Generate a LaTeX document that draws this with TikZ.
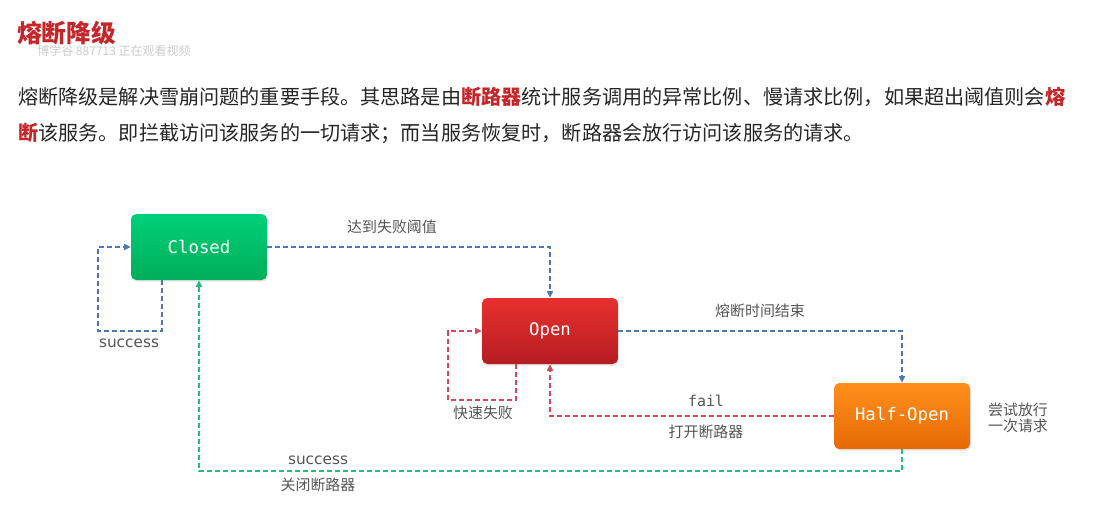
\documentclass[tikz,border=0pt]{standalone}
\usepackage{fontspec}
\setmainfont{Noto Sans CJK SC}
\newfontfamily\monof{DejaVu Sans Mono}
\newfontfamily\sansf{DejaVu Sans}
\usetikzlibrary{shadows,arrows.meta}
\definecolor{hred}{HTML}{C4262A}
\definecolor{bodytxt}{HTML}{262626}
\definecolor{lbl}{HTML}{555555}
\definecolor{lblue}{HTML}{4A78B5}
\definecolor{lred}{HTML}{D0485A}
\definecolor{lgreen}{HTML}{1DBF7E}
\definecolor{gtop}{HTML}{00D07A}
\definecolor{gbot}{HTML}{00AE58}
\definecolor{rtop}{HTML}{E8302E}
\definecolor{rbot}{HTML}{B51D22}
\definecolor{otop}{HTML}{FF8F1C}
\definecolor{obot}{HTML}{E66A05}
\tikzset{
  statebox/.style={rounded corners=4pt, minimum width=102pt, minimum height=49.5pt, inner sep=0pt,
    text=white, font=\monof\fontsize{13}{15}\selectfont,
    drop shadow={opacity=0.2, shadow xshift=0.8pt, shadow yshift=-1.2pt}},
  conn/.style={line width=1.1pt, dash pattern=on 3.6pt off 2.4pt, -{Triangle[length=5pt,width=4.5pt]}},
  cnlbl/.style={text=lbl, font=\fontsize{11.2}{13}\selectfont, inner sep=0pt},
  monolbl/.style={text=lbl, font=\monof\fontsize{11.2}{13}\selectfont, inner sep=0pt},
  sanslbl/.style={text=lbl, font=\sansf\fontsize{11.5}{13}\selectfont, inner sep=0pt},
  bodyline/.style={anchor=west, inner sep=0pt, text=bodytxt, font=\fontsize{15.1}{18}\selectfont},
}
\newcommand{\hl}[1]{\textcolor{hred}{\textbf{#1}}}
\begin{document}
\begin{tikzpicture}[x=0.75pt,y=-0.75pt]
\useasboundingbox (0,0) rectangle (1102,506);
\fill[white] (0,0) rectangle (1102,506);
% title & watermark
\node[anchor=west, inner sep=0pt, text=hred, font=\bfseries\fontsize{18.5}{20}\selectfont] (title) at (17,33) {熔断降级};
\node[anchor=west, inner sep=0pt, text=black!20, font=\fontsize{9}{10}\selectfont] (wm) at (37,51) {博学谷 887713 正在观看视频};
% paragraph
\node[bodyline] (p1) at (18,97) {熔断降级是解决雪崩问题的重要手段。其思路是由\hl{断路器}统计服务调用的异常比例、慢请求比例，如果超出阈值则会\hl{熔}};
\node[bodyline] (p2) at (18,133) {\hl{断}该服务。即拦截访问该服务的一切请求；而当服务恢复时，断路器会放行访问该服务的请求。};
% states
\node[statebox, top color=gtop, bottom color=gbot] (closed) at (199,247) {Closed};
\node[statebox, top color=rtop, bottom color=rbot] (open) at (550,331) {Open};
\node[statebox, top color=otop, bottom color=obot] (half) at (902,416) {Half-Open};
% coordinates
\coordinate (c1) at (162,331);
\coordinate (c2) at (98,331);
\coordinate (o1) at (516,400);
\coordinate (o2) at (448,400);
\coordinate (g1) at (902,471);
\coordinate (g2) at (199,471);
% connectors
\draw[conn, lblue] (closed.east) -- (open.north |- closed.east) -- (open.north);
\draw[conn, lblue] (closed.south -| c1) -- (c1) -- (c2) -- (c2 |- closed.west) -- (closed.west);
\draw[conn, lblue] (open.east) -- (half.north |- open.east) -- (half.north);
\draw[conn, lred] (open.south -| o1) -- (o1) -- (o2) -- (o2 |- open.west) -- (open.west);
\draw[conn, lred] (half.west) -- (open.south |- half.west) -- (open.south);
\draw[conn, lgreen] (half.south) -- (g1) -- (g2) -- (closed.south);
% labels
\node[cnlbl] (l1) at (392,227) {达到失败阈值};
\node[sanslbl] (l2) at (129,343) {success};
\node[cnlbl] (l3) at (760,311) {熔断时间结束};
\node[cnlbl] (l4) at (483,413) {快速失败};
\node[monolbl] (l5) at (706,401) {fail};
\node[cnlbl] (l6) at (706,432) {打开断路器};
\node[sanslbl] (l7) at (318,460) {success};
\node[cnlbl] (l8) at (318,485) {关闭断路器};
\node[cnlbl, align=center] (l9) at (1018,418) {尝试放行\\[-1pt]一次请求};
\end{tikzpicture}
\end{document}
